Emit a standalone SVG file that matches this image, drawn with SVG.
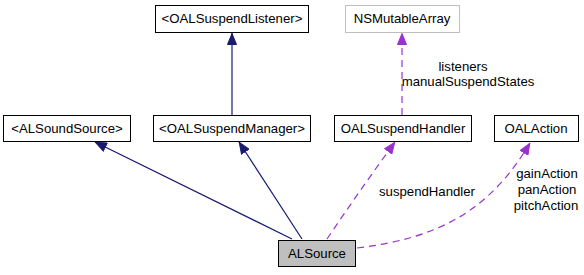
<svg xmlns="http://www.w3.org/2000/svg" width="584" height="275" viewBox="0 0 584 275">
  <defs>
    <style>
      .box { fill: #ffffff; stroke: #000000; stroke-width: 1; }
      .ext { fill: #ffffff; stroke: #bfbfbf; stroke-width: 1; }
      .cur { fill: #bfbfbf; stroke: #000000; stroke-width: 1; }
      text { font-family: "Liberation Sans", Arial, Helvetica, sans-serif; font-size: 13.2px; fill: #000000; }
      .lbl { text-anchor: middle; }
      .inh { fill: none; stroke: #191970; stroke-width: 1.2; }
      .use { fill: none; stroke: #9a32cd; stroke-width: 1.2; stroke-dasharray: 7 5; }
    </style>
    <marker id="arrInh" viewBox="0 0 12 10" refX="12" refY="5" markerWidth="12" markerHeight="10" markerUnits="userSpaceOnUse" orient="auto">
      <path d="M0.5,0.5 L11.5,5 L0.5,9.5 Z" fill="#191970" stroke="#191970"/>
    </marker>
    <marker id="arrUse" viewBox="0 0 12 10" refX="12" refY="5" markerWidth="12" markerHeight="10" markerUnits="userSpaceOnUse" orient="auto">
      <path d="M0.5,0.5 L11.5,5 L0.5,9.5 Z" fill="#9a32cd" stroke="#9a32cd"/>
    </marker>
  </defs>

  <g id="connectors">
    <!-- inheritance / protocol conformance -->
    <path class="inh" d="M232,115 L232,33" marker-end="url(#arrInh)"/>
    <path class="inh" d="M292,239 L95,142" marker-end="url(#arrInh)"/>
    <path class="inh" d="M302,239 L239,142" marker-end="url(#arrInh)"/>
    <!-- usage relations -->
    <path class="use" d="M402,115 L402,33" marker-end="url(#arrUse)"/>
    <path class="use" d="M327,239 Q360,190 395,142" marker-end="url(#arrUse)"/>
    <path class="use" d="M357,248 C440,238 490,210 530,143" marker-end="url(#arrUse)"/>
    <text x="463" y="71" class="lbl">listeners</text>
    <text x="468" y="86" class="lbl">manualSuspendStates</text>
    <text x="427" y="196" class="lbl">suspendHandler</text>
    <text x="547" y="178" class="lbl">gainAction</text>
    <text x="547" y="194" class="lbl">panAction</text>
    <text x="546" y="210" class="lbl">pitchAction</text>
  </g>

  <g id="node-OALSuspendListener">
    <rect class="box" x="155.5" y="5.5" width="153" height="27"/>
    <text x="232" y="23" class="lbl">&lt;OALSuspendListener&gt;</text>
  </g>
  <g id="node-NSMutableArray">
    <rect class="ext" x="345.5" y="5.5" width="114" height="27"/>
    <text x="402" y="23" class="lbl">NSMutableArray</text>
  </g>
  <g id="node-ALSoundSource">
    <rect class="box" x="3.5" y="115.5" width="127" height="26"/>
    <text x="67" y="133" class="lbl">&lt;ALSoundSource&gt;</text>
  </g>
  <g id="node-OALSuspendManager">
    <rect class="box" x="153.5" y="115.5" width="157" height="26"/>
    <text x="232" y="133" class="lbl">&lt;OALSuspendManager&gt;</text>
  </g>
  <g id="node-OALSuspendHandler">
    <rect class="box" x="334.5" y="115.5" width="137" height="26"/>
    <text x="403" y="133" class="lbl">OALSuspendHandler</text>
  </g>
  <g id="node-OALAction">
    <rect class="box" x="494.5" y="115.5" width="84" height="26"/>
    <text x="536" y="133" class="lbl">OALAction</text>
  </g>
  <g id="node-ALSource">
    <rect class="cur" x="278.5" y="240.5" width="77" height="26"/>
    <text x="317" y="258" class="lbl">ALSource</text>
  </g>
</svg>
